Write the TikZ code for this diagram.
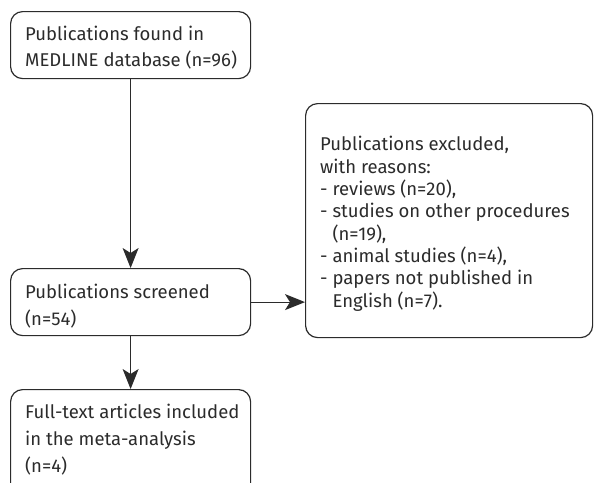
\documentclass[tikz,border=0pt]{standalone}
\usepackage{fontspec}
\setmainfont{Fira Sans}
\usetikzlibrary{arrows.meta}
\definecolor{ink}{HTML}{2B2B2B}
\tikzset{
  box/.style={draw=ink, line width=1.2pt, rounded corners=12pt, inner sep=0pt, anchor=north west},
  txt/.style={anchor=base west, inner sep=0pt, align=left, text=ink,
    font={\fontsize{18.5}{26.7}\selectfont}},
  txtr/.style={txt, font={\fontsize{18.5}{22.3}\selectfont}},
  conn/.style={draw=ink, line width=1.2pt, -{Stealth[length=20pt,width=16pt,inset=5pt]}}
}
\begin{document}
\begin{tikzpicture}[x=1pt,y=-1pt]
\clip (0,0) rectangle (594,482);
\node[box, minimum width=240pt, minimum height=67pt] (b1) at (10,11) {};
\node[box, minimum width=240pt, minimum height=67pt] (b2) at (10,268) {};
\node[box, minimum width=240pt, minimum height=111pt] (b3) at (10,389) {};
\node[box, minimum width=287pt, minimum height=234pt] (b4) at (305,103) {};
\node[txt] (t1) at (25,66.7) {Publications found in\\MEDLINE database (n=96)};
\node[txt] (t2) at (25,325) {Publications screened\\(n=54)};
\node[txt] (t3) at (25,472) {Full-text articles included\\in the meta-analysis\\(n=4)};
\node[txtr] (t4) at (320,307) {Publications excluded,\\with reasons:\\- reviews (n=20),\\- studies on other procedures\\\phantom{- }(n=19),\\- animal studies (n=4),\\- papers not published in\\\phantom{- }English (n=7).};
\draw[conn] (b1.south) -- (b2.north);
\draw[conn] (b2.south) -- (b3.north);
\draw[conn] (b2.east) -- (b2.east -| b4.west);
\end{tikzpicture}
\end{document}
